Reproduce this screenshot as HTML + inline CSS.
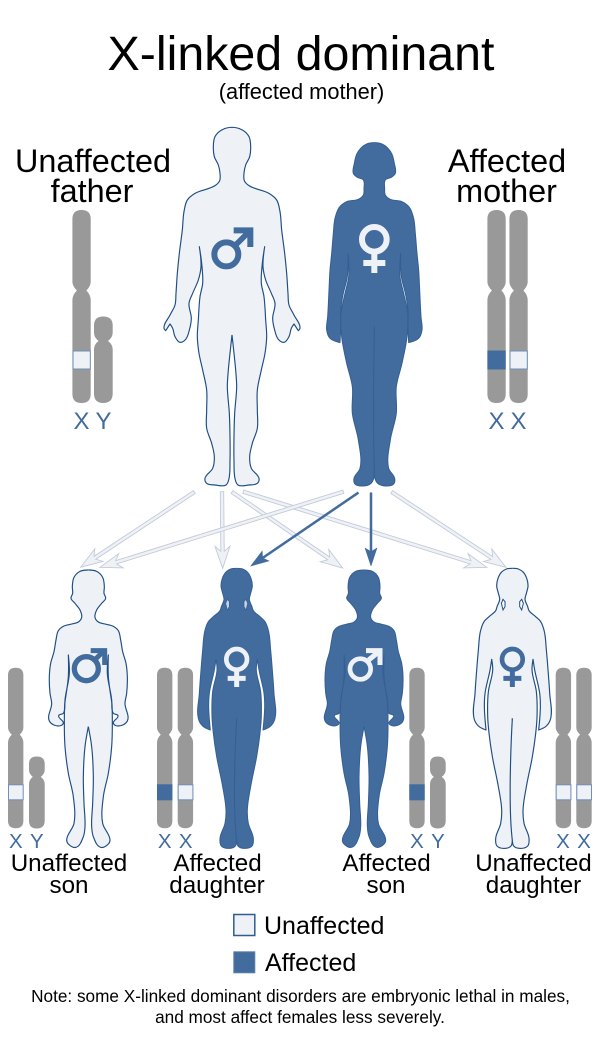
<!DOCTYPE html>
<html><head><meta charset="utf-8"><style>
html,body{margin:0;padding:0;background:#fff}
svg{display:block}
text{font-family:"Liberation Sans",sans-serif;fill:#000}
.l{fill:#eef2f7;stroke:#c3cbd8;stroke-width:.9}
.b{fill:#426b9e;stroke:#426b9e;stroke-width:.5}
.xy{fill:#426b9e}
</style></head><body>
<svg width="600" height="1043" viewBox="0 0 600 1043" xmlns="http://www.w3.org/2000/svg">
<defs>
<path id="fh" class="sm" stroke-linejoin="round" d="M246 22L215 30L195 50L190 80L193 110L205 135L210 160L209 182L195 197L135 220L112 240L102 275L97 330L88 400L82 460L78 520L75 555L60 585L42 625L47 632L60 612L68 625L75 650L90 667L107 658L118 630L124 595L117 550L128 520L145 480L153 440L148 380L155 430L158 490L150 530L145 600L142 650L147 700L158 750L170 810L170 870L170 925L185 970L193 1010L188 1045L165 1075L170 1090L195 1095L228 1095L236 1080L240 1020L240 950L238 880L232 800L235 750L240 700L246 645"/>
<g id="father"><path d="M246 26V645" fill="none" stroke="currentColor" stroke-width="5"/><use href="#fh"/><use href="#fh" transform="translate(492,0) scale(-1,1)"/></g>

<path id="mh" class="sm" stroke-linejoin="round" d="M673 68L650 72L632 85L620 103L613 130L610 160L622 172L640 180L642 205L640 225L625 238L590 245L568 262L555 295L550 340L545 400L540 450L537 510L533 590L530 630L540 655L570 668L572 620L572 570L580 520L592 470L594 400L596 470L585 520L573 580L575 650L590 730L607 800L607 880L625 960L630 1045L612 1075L615 1092L640 1098L663 1090L672 1072L673 1055L673 620"/>
<g id="mother"><path d="M673 72V620" fill="none" stroke="currentColor" stroke-width="5"/><use href="#mh"/><use href="#mh" transform="translate(1346,0) scale(-1,1)"/></g>

<path id="bh" class="sm" stroke-linejoin="round" d="M265 30L240 34L222 52L217 80L218 100L213 115L225 130L240 150L245 172L235 186L215 192L190 199L175 212L168 240L162 275L152 310L148 350L150 400L155 430L148 483L175 498L190 490L176 467L190 460L195 425L205 350L205 285L208 340L195 420L193 490L195 560L205 640L220 710L222 790L200 840L205 852L228 862L250 830L255 800L252 730L250 650L255 560L265 500"/>
<g id="boy"><path d="M265 34V500" fill="none" stroke="currentColor" stroke-width="5"/><use href="#bh"/><use href="#bh" transform="translate(530,0) scale(-1,1)"/></g>

<path id="gh" class="sm" stroke-linejoin="round" d="M710 25L692 27L677 37L667 55L663 78L668 100L672 118L664 140L660 152L640 170L625 185L614 215L608 270L603 330L598 400L595 475L608 498L631 510L626 440L628 400L643 330L648 298L651 330L638 395L636 470L640 520L650 590L668 680L678 750L675 790L660 835L664 858L690 865L706 858L710 842L710 475"/>
<g id="girl"><path d="M710 29V475" fill="none" stroke="currentColor" stroke-width="5"/><use href="#gh"/><use href="#gh" transform="translate(1420,0) scale(-1,1)"/></g>

<g id="x"><path fill="#999" d="M0 9Q0 0 9.150 0Q18.300 0 18.300 9V72Q18.300 76 14 80.500Q18.300 85 18.300 90V184Q18.300 193 9.150 193Q0 193 0 184V90Q0 85 4.500 80.500Q0 76 0 72Z"/></g>
<g id="y"><path fill="#999" d="M0 9Q0 0 9.150 0Q18.700 0 18.700 9V16Q18.700 21 14 24.500Q18.700 28 18.700 33V77Q18.700 86.500 9.150 86.500Q0 86.500 0 77V33Q0 28 4.500 24.500Q0 21 0 16Z"/></g>
</defs>

<!-- titles -->
<text x="301" y="70" font-size="48" text-anchor="middle" textLength="387" lengthAdjust="spacingAndGlyphs">X-linked dominant</text>
<text x="301.500" y="99" font-size="21.800" text-anchor="middle">(affected mother)</text>
<text x="93" y="172" font-size="32.400" text-anchor="middle">Unaffected</text>
<text x="92" y="202" font-size="32.400" text-anchor="middle">father</text>
<text x="507" y="172" font-size="32.400" text-anchor="middle">Affected</text>
<text x="506.500" y="202" font-size="32.400" text-anchor="middle">mother</text>

<!-- parents -->
<g transform="translate(150,120) scale(.33333)">
<use href="#father" fill="#eef2f7" stroke="#1f4d85" stroke-width="3.500" color="#eef2f7"/>
<circle cx="229" cy="403" r="36" fill="none" stroke="#426b9e" stroke-width="18"/>
<path d="M255 377L298 334" stroke="#426b9e" stroke-width="17" fill="none"/>
<path d="M251 331H301V381" stroke="#426b9e" stroke-width="18" fill="none"/>
<use href="#mother" fill="#426b9e" stroke="#355f94" stroke-width="3" color="#426b9e"/>
<circle cx="673" cy="358" r="37" fill="none" stroke="#eef2f7" stroke-width="18"/>
<path d="M673 400V459M640 429H706" stroke="#eef2f7" stroke-width="18" fill="none"/>
</g>

<!-- parent chromosomes -->
<use href="#x" x="72.400" y="210"/><use href="#y" x="94" y="316.500"/>
<rect x="73" y="351" width="17.300" height="18" fill="#eef2f7" stroke="#6f8fb8" stroke-width="1"/>
<use href="#x" x="487.400" y="210"/><use href="#x" x="509.400" y="210"/>
<rect x="487.400" y="350.500" width="18.300" height="19" fill="#426b9e"/>
<rect x="510" y="351" width="17.300" height="18" fill="#eef2f7" stroke="#6f8fb8" stroke-width="1"/>
<g font-size="24" text-anchor="middle">
<text class="xy" x="81.500" y="429">X</text><text class="xy" x="103.500" y="429">Y</text>
<text class="xy" x="496.500" y="429">X</text><text class="xy" x="518.500" y="429">X</text>
</g>

<!-- arrows -->
<g>
<path class="l" transform="translate(194.300,492) rotate(146.500)" d="M0 -1.700H119.300L114.300 -7.500L136.300 0L114.300 7.500L119.300 1.700H0Z"/>
<path class="l" transform="translate(222,491.700) rotate(89.500)" d="M0 -1.700H59.600L54.600 -7.500L76.600 0L54.600 7.500L59.600 1.700H0Z"/>
<path class="l" transform="translate(232,492) rotate(34.500)" d="M0 -1.700H117.300L112.300 -7.500L134.300 0L112.300 7.500L117.300 1.700H0Z"/>
<path class="l" transform="translate(243.300,491.700) rotate(17.250)" d="M0 -1.700H237.900L232.900 -7.500L254.900 0L232.900 7.500L237.900 1.700H0Z"/>
<path class="l" transform="translate(343.300,491.700) rotate(162.740)" d="M0 -1.700H237.800L232.800 -7.500L254.800 0L232.800 7.500L237.800 1.700H0Z"/>
<path class="l" transform="translate(391.700,492) rotate(33.400)" d="M0 -1.700H119.900L114.900 -7.500L136.900 0L114.900 7.500L119.900 1.700H0Z"/>
<path class="b" transform="translate(358.300,492.700) rotate(145.700)" d="M0 -1H115.200L112.200 -6L130.200 0L112.200 6L115.200 1H0Z"/>
<path class="b" transform="translate(371,492.700) rotate(90)" d="M0 -1H58.300L55.300 -6L73.300 0L55.300 6L58.300 1H0Z"/>
</g>

<!-- children figures -->
<g transform="translate(0,560) scale(.33333)">
<use href="#boy" fill="#eef2f7" stroke="#1f4d85" stroke-width="3.500" color="#eef2f7"/>
<circle cx="259" cy="326" r="36" fill="none" stroke="#426b9e" stroke-width="16"/>
<path d="M284 300L312 272" stroke="#426b9e" stroke-width="15" fill="none"/>
<path d="M272 272H314V315" stroke="#426b9e" stroke-width="15" fill="none"/>
<use href="#girl" fill="#426b9e" stroke="#355f94" stroke-width="3" color="#426b9e"/>
<path d="M682 118L677 130L682 150L688 140L688 125ZM738 118L743 130L738 150L732 140L732 125Z" fill="#c6d2e2" stroke="#355f94" stroke-width="2"/>
<circle cx="710" cy="298" r="31" fill="none" stroke="#eef2f7" stroke-width="14"/>
<path d="M710 332V381M683 355H737" stroke="#eef2f7" stroke-width="15" fill="none"/>
</g>
<g transform="translate(275.700,560) scale(.33333)">
<use href="#boy" fill="#426b9e" stroke="#355f94" stroke-width="3" color="#426b9e"/>
<use href="#girl" fill="#eef2f7" stroke="#1f4d85" stroke-width="3.500" color="#eef2f7"/>
<path d="M682 118L677 130L682 150L688 140L688 125ZM738 118L743 130L738 150L732 140L732 125Z" fill="#fff" stroke="#1f4d85" stroke-width="3"/>
<path d="M710 332V381M683 355H737" stroke="#426b9e" stroke-width="15" fill="none"/>
<circle cx="710" cy="298" r="31" fill="none" stroke="#426b9e" stroke-width="14"/>
</g>
<g transform="translate(300,560) scale(.33333)">
<circle cx="181" cy="327" r="31" fill="none" stroke="#eef2f7" stroke-width="14"/>
<path d="M206 300L238 274" stroke="#eef2f7" stroke-width="15" fill="none"/>
<path d="M198 272H240V315" stroke="#eef2f7" stroke-width="15" fill="none"/>
</g>

<!-- children chromosomes -->
<g transform="translate(8,667.700) scale(.84,.832)"><use href="#x"/></g>
<g transform="translate(29,756.500) scale(.84,.832)"><use href="#y"/></g>
<rect x="8.500" y="784.800" width="14.700" height="15" fill="#eef2f7" stroke="#6f8fb8" stroke-width="1"/>
<g transform="translate(157,667.700) scale(.84,.832)"><use href="#x"/></g>
<g transform="translate(177.700,667.700) scale(.84,.832)"><use href="#x"/></g>
<rect x="157" y="784.300" width="15.400" height="16" fill="#426b9e"/>
<rect x="178.200" y="784.800" width="14.700" height="15" fill="#eef2f7" stroke="#6f8fb8" stroke-width="1"/>
<g transform="translate(409.300,667.700) scale(.84,.832)"><use href="#x"/></g>
<g transform="translate(430,756.500) scale(.84,.832)"><use href="#y"/></g>
<rect x="409.300" y="784.300" width="15.400" height="16" fill="#426b9e"/>
<g transform="translate(555.700,667.700) scale(.84,.832)"><use href="#x"/></g>
<g transform="translate(576.300,667.700) scale(.84,.832)"><use href="#x"/></g>
<rect x="556.200" y="784.800" width="14.700" height="15" fill="#eef2f7" stroke="#6f8fb8" stroke-width="1"/>
<rect x="576.800" y="784.800" width="14.700" height="15" fill="#eef2f7" stroke="#6f8fb8" stroke-width="1"/>
<g font-size="20.500" text-anchor="middle">
<text class="xy" x="15.800" y="848">X</text><text class="xy" x="36.800" y="848">Y</text>
<text class="xy" x="164.700" y="848">X</text><text class="xy" x="185.700" y="848">X</text>
<text class="xy" x="417" y="848">X</text><text class="xy" x="438" y="848">Y</text>
<text class="xy" x="563" y="848">X</text><text class="xy" x="584" y="848">X</text>
</g>

<!-- children labels -->
<g font-size="24.200" text-anchor="middle">
<text x="69" y="871">Unaffected</text><text x="69" y="893">son</text>
<text x="217.500" y="871">Affected</text><text x="217" y="893">daughter</text>
<text x="386.500" y="871">Affected</text><text x="386" y="893">son</text>
<text x="533.500" y="871">Unaffected</text><text x="533.500" y="893">daughter</text>
</g>

<!-- legend -->
<rect x="233.800" y="914.500" width="21" height="21" fill="#eef2f7" stroke="#2f5c92" stroke-width="1.500"/>
<rect x="233.800" y="951.800" width="21" height="21" fill="#426b9e" stroke="#5b80ad" stroke-width="1"/>
<text x="264" y="934" font-size="25">Unaffected</text>
<text x="265" y="971" font-size="25">Affected</text>

<!-- note -->
<text x="300.500" y="1002" font-size="17.200" text-anchor="middle">Note: some X-linked dominant disorders are embryonic lethal in males,</text>
<text x="300" y="1023" font-size="17.200" text-anchor="middle">and most affect females less severely.</text>
</svg>
<script>
document.querySelectorAll('path.sm').forEach(function(p){
  var n=p.getAttribute('d').match(/-?[\d.]+/g).map(Number),P=[];
  for(var i=0;i<n.length;i+=2)P.push([n[i],n[i+1]]);
  var m=P.length,D=[];
  for(var i=0;i<m;i++){
    if(i==0){D.push([P[1][0]<P[0][0]?-1:1,0]);continue}
    if(i==m-1){D.push(null);continue}
    var a=[P[i][0]-P[i-1][0],P[i][1]-P[i-1][1]],b=[P[i+1][0]-P[i][0],P[i+1][1]-P[i][1]];
    var la=Math.hypot(a[0],a[1]),lb=Math.hypot(b[0],b[1]);
    if((a[0]*b[0]+a[1]*b[1])/(la*lb)<-0.2){D.push(null);continue}
    var u=a[0]/la+b[0]/lb,v=a[1]/la+b[1]/lb,l=Math.hypot(u,v)||1;
    D.push([u/l,v/l]);
  }
  var s='M'+P[0].join(' ');
  for(var i=0;i<m-1;i++){
    var L=Math.hypot(P[i+1][0]-P[i][0],P[i+1][1]-P[i][1])/3;
    var c1=D[i]?[P[i][0]+D[i][0]*L,P[i][1]+D[i][1]*L]:P[i];
    var c2=D[i+1]?[P[i+1][0]-D[i+1][0]*L,P[i+1][1]-D[i+1][1]*L]:P[i+1];
    s+='C'+c1[0].toFixed(1)+' '+c1[1].toFixed(1)+' '+c2[0].toFixed(1)+' '+c2[1].toFixed(1)+' '+P[i+1].join(' ');
  }
  p.setAttribute('d',s);
});
</script>
</body></html>
